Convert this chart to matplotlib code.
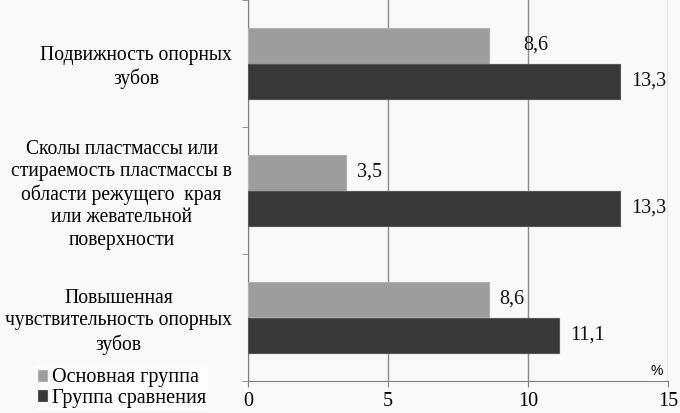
import numpy as np
import matplotlib.pyplot as plt

categories = [
    'Подвижность опорных\nзубов',
    'Сколы пластмассы или\nстираемость пластмассы в\nобласти режущего  края\nили жевательной\nповерхности',
    'Повышенная\nчувствительность опорных\nзубов',
]
main_group = [8.6, 3.5, 8.6]
compare_group = [13.3, 13.3, 11.1]
series_names = ['Основная группа', 'Группа сравнения']
x_ticks = [0, 5, 10, 15]

plt.rcParams['font.family'] = 'serif'
plt.rcParams['font.serif'] = ['Liberation Serif', 'DejaVu Serif']

fig = plt.figure(figsize=(6.8, 4.13), dpi=100, facecolor='#f9f9f9')
ax = fig.add_axes([248 / 680, 32 / 413, 420 / 680, 381 / 413])
ax.set_facecolor('#f9f9f9')

y = np.arange(len(categories))
h = 0.283
b1 = ax.barh(y - h / 2, main_group, height=h, color='#9d9d9d',
             edgecolor='#b0b0b0', linewidth=0.8, label=series_names[0], zorder=3)
b2 = ax.barh(y + h / 2, compare_group, height=h, color='#383838',
             edgecolor='#555555', linewidth=0.8, label=series_names[1], zorder=3)

# value labels, comma as decimal separator
offsets_main = [34, 11, 10]
for rect, v, off in zip(b1, main_group, offsets_main):
    ax.annotate(f'{v:.1f}'.replace('.', ','),
                (rect.get_width(), rect.get_y() + rect.get_height() / 2),
                xytext=(off, 0), textcoords='offset pixels',
                va='center', ha='left', fontsize=14.5, color='#111111')
for rect, v in zip(b2, compare_group):
    ax.annotate(f'{v:.1f}'.replace('.', ','),
                (rect.get_width(), rect.get_y() + rect.get_height() / 2),
                xytext=(11, 0), textcoords='offset pixels',
                va='center', ha='left', fontsize=14.5, color='#111111')

ax.set_xlim(0, 15)
ax.set_ylim(len(categories) - 0.5, -0.5)
ax.set_xticks(x_ticks)
ax.set_xticklabels([str(t) for t in x_ticks], fontsize=14.5)
ax.set_yticks(y)
ax.set_yticklabels(categories, fontsize=14.1, multialignment='center',
                   linespacing=1.24)
ax.set_yticks(np.arange(-0.5, len(categories)), minor=True)
ax.tick_params(axis='y', which='major', length=0, pad=11.5)
ax.tick_params(axis='y', which='minor', length=4, color='#808080')
ax.tick_params(axis='x', length=4, color='#808080', pad=4)

ax.grid(axis='x', color='#8a8a8a', linewidth=1, zorder=0)
for s in ['top', 'right']:
    ax.spines[s].set_visible(False)
for s in ['left', 'bottom']:
    ax.spines[s].set_color('#808080')

ax.text(14.6, 2.42, '%', family=['Liberation Sans', 'DejaVu Sans'], fontsize=10,
        ha='center', va='center', zorder=5,
        bbox=dict(facecolor='#f9f9f9', edgecolor='none', pad=2))

leg = fig.legend(loc='lower left', bbox_to_anchor=(36 / 680, 3 / 413),
                 frameon=True, fontsize=14.5, handlelength=0.45, handleheight=0.45,
                 handletextpad=0.25, labelspacing=0.08, borderpad=0.1,
                 borderaxespad=0)
leg.get_frame().set_facecolor('white')
leg.get_frame().set_edgecolor('none')
leg.get_frame().set_boxstyle('square', pad=0)

fig.savefig('out.png', dpi=100, facecolor=fig.get_facecolor())
